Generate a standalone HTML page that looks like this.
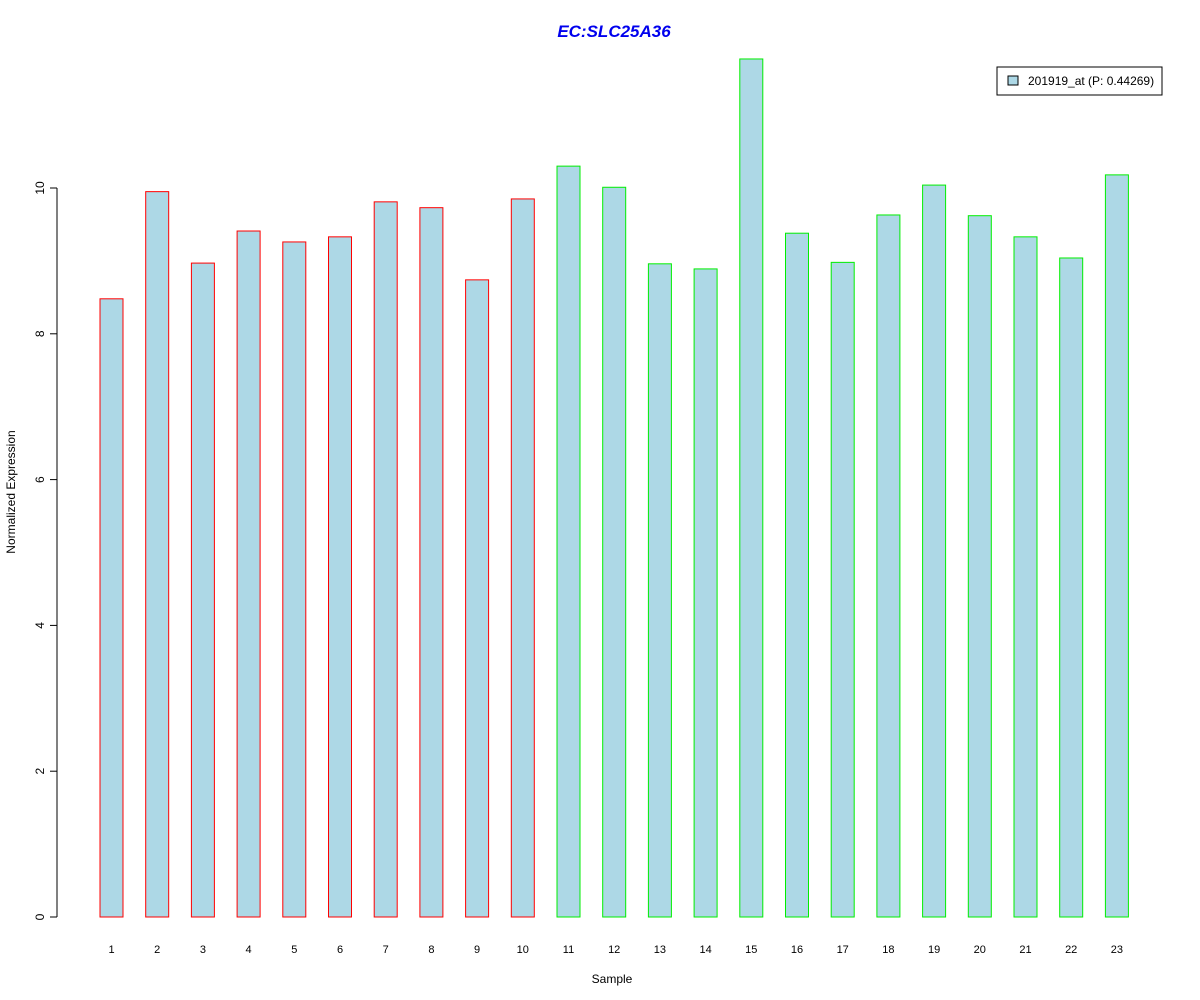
<!DOCTYPE html>
<html><head><meta charset="utf-8"><style>
body{margin:0;background:#fff}
svg{display:block;font-family:"Liberation Sans",Arial,sans-serif}
</style></head><body>
<svg id="chart" width="1200" height="1000">
<rect width="1200" height="1000" fill="#fff"/>
<text x="614" y="37" text-anchor="middle" font-size="17" font-weight="bold" font-style="italic" fill="#0000ee">EC:SLC25A36</text>
<text x="612" y="983" text-anchor="middle" font-size="12">Sample</text>
<text transform="translate(15,492) rotate(-90)" text-anchor="middle" font-size="12">Normalized Expression</text>
<g id="yaxis"></g>
<g id="bars"></g>
<g id="xlabels"></g>
<g>
<rect x="997" y="67" width="165" height="28" fill="#fff" stroke="#000"/>
<rect x="1008" y="76" width="10" height="9" fill="#add8e6" stroke="#000"/>
<text x="1028" y="85" font-size="12">201919_at (P: 0.44269)</text>
</g>
</svg>
<script>
const categories=["1","2","3","4","5","6","7","8","9","10","11","12","13","14","15","16","17","18","19","20","21","22","23"];
const values=[8.48,9.95,8.97,9.41,9.26,9.33,9.81,9.73,8.74,9.85,10.30,10.01,8.96,8.89,11.77,9.38,8.98,9.63,10.04,9.62,9.33,9.04,10.18];
const groups=["r","r","r","r","r","r","r","r","r","r","g","g","g","g","g","g","g","g","g","g","g","g","g"];
const yTicks=[0,2,4,6,8,10];
const NS="http://www.w3.org/2000/svg";
const y=v=>917-v*72.9;
const xc=i=>111.5+i*45.7;
const bw=23;
const yaxis=document.getElementById('yaxis');
function mk(t,a,p){const e=document.createElementNS(NS,t);for(const k in a)e.setAttribute(k,a[k]);p.appendChild(e);return e;}
const ax=mk('line',{x1:57,x2:57,y1:y(0),y2:y(10),stroke:'#000'},yaxis);


yTicks.forEach(t=>{
 const l=mk('line',{x1:50,x2:57,y1:y(t),y2:y(t),stroke:'#000'},yaxis);
 
 
 const tx=mk('text',{transform:`translate(44,${y(t)}) rotate(-90)`,'text-anchor':'middle','font-size':12},yaxis);
 tx.textContent=t;
 
 
});
const bars=document.getElementById('bars'),xl=document.getElementById('xlabels');
values.forEach((v,i)=>{
 const r=mk('rect',{x:xc(i)-bw/2,y:y(v),width:bw,height:y(0)-y(v),fill:'#add8e6',stroke:groups[i]==='r'?'#ff0000':'#00ee00'},bars);
 
 
 const t=mk('text',{x:xc(i),y:953,'text-anchor':'middle','font-size':11},xl);
 t.textContent=categories[i];
 
 
});
</script>
</body></html>
